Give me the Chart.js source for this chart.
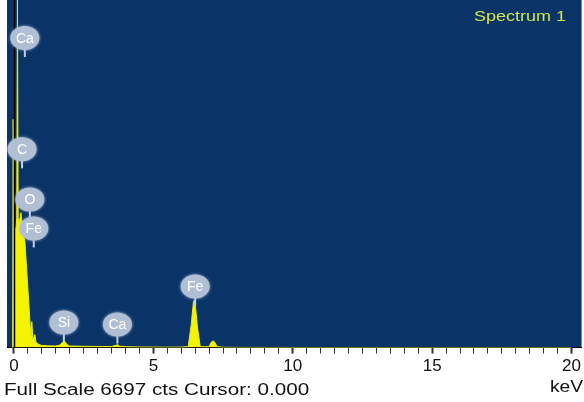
<!DOCTYPE html>
<html>
<head>
<meta charset="utf-8">
<script src="https://cdn.jsdelivr.net/npm/chart.js@4/dist/chart.umd.min.js"></script>
<style>
  html, body { margin: 0; padding: 0; background: #fff; }
  #wrap { width: 584px; height: 402px; }
</style>
</head>
<body>
<div id="wrap"><canvas id="c"></canvas></div>
<script>
// spectrum, energy in keV and counts
const energies = [-0.05, -0.03, -0.01, 0.02, 0.07, 0.10, 0.125, 0.15, 0.19, 0.25, 0.32, 0.39, 0.48, 0.57, 0.61, 0.64, 0.68, 0.75, 0.79, 0.90, 1.00,
                  1.20, 1.50, 1.65, 1.75, 1.82, 1.90, 2.00, 2.50, 3.00, 3.50, 3.65, 3.72, 3.80, 4.00, 4.50, 5.00, 5.50,
                  6.00, 6.25, 6.36, 6.44, 6.49, 6.58, 6.68, 6.85, 7.00, 7.07, 7.14, 7.21, 7.28, 7.50, 8.00, 10.0, 15.0, 20.0];
const counts   = [0, 4400, 4400, 2300, 2300, 2500, 6700, 2500, 2400, 2600, 2200, 2060, 1300, 520, 200, 500, 150, 250, 100, 60, 40,
                  35, 30, 50, 110, 120, 60, 30, 25, 22, 20, 45, 55, 25, 18, 12, 10, 8,
                  10, 20, 450, 900, 900, 400, 20, 15, 20, 100, 130, 100, 20, 6, 4, 2, 0, 0];

// element markers: name, energy (keV), counts at stem foot
const markNames  = ['Ca', 'C', 'O', 'Fe', 'Si', 'Ca', 'Fe'];
const markEnergy = [0.39, 0.29, 0.57, 0.71, 1.79, 3.71, 6.50];
const markCounts = [5600, 3456, 2490, 1930, 116, 77, 810];

const xTickLabels = [0, 5, 10, 15, 20];
const fullScale = 6697;
const cursorKeV = 0.000;

const BLUE = '#0a3468';

const spectrumPlugin = {
  id: 'spectrum',
  beforeDraw(chart) {
    const a = chart.chartArea, ctx = chart.ctx;
    ctx.save();
    ctx.fillStyle = BLUE;
    ctx.fillRect(a.left, 0, a.right - a.left, a.bottom);
    ctx.restore();
  },
  afterDatasetsDraw(chart) {
    const ctx = chart.ctx, x = chart.scales.x, y = chart.scales.y, a = chart.chartArea;
    ctx.save();
    // cursor line
    const cx = Math.round(x.getPixelForValue(cursorKeV)) + 0.5;
    ctx.strokeStyle = '#000';
    ctx.lineWidth = 1.5;
    ctx.beginPath();
    ctx.moveTo(cx, 0);
    ctx.lineTo(cx, a.bottom);
    ctx.stroke();

    // element bubbles
    markNames.forEach((name, i) => {
      const px = x.getPixelForValue(markEnergy[i]);
      const py = y.getPixelForValue(markCounts[i]);
      ctx.strokeStyle = '#c4cfdf';
      ctx.lineWidth = 2;
      ctx.beginPath();
      ctx.moveTo(px, py);
      ctx.lineTo(px, py - 8);
      ctx.stroke();
      ctx.shadowColor = 'rgba(190,202,222,0.9)';
      ctx.shadowBlur = 3;
      ctx.fillStyle = '#b1bfd4';
      ctx.beginPath();
      ctx.ellipse(px, py - 19, 14.5, 12, 0, 0, Math.PI * 2);
      ctx.fill();
      ctx.shadowBlur = 0;
      ctx.fillStyle = '#ffffff';
      ctx.font = '14px "Liberation Sans", Arial, sans-serif';
      ctx.textAlign = 'center';
      ctx.textBaseline = 'middle';
      ctx.fillText(name, px, py - 18);
    });

    // spectrum name
    ctx.fillStyle = '#d4e44a';
    ctx.font = '15px "Liberation Sans", Arial, sans-serif';
    ctx.textAlign = 'right';
    ctx.textBaseline = 'middle';
    ctx.save();
    ctx.translate(566, 17);
    ctx.scale(1.2, 1);
    ctx.fillText('Spectrum 1', 0, 0);
    ctx.restore();
    ctx.restore();
  },
  afterDraw(chart) {
    const ctx = chart.ctx;
    ctx.save();
    ctx.fillStyle = '#111';
    ctx.font = '16px "Liberation Sans", Arial, sans-serif';
    ctx.textBaseline = 'middle';
    ctx.textAlign = 'left';
    ctx.save();
    ctx.translate(4, 391);
    ctx.scale(1.29, 1);
    ctx.fillText('Full Scale ' + fullScale + ' cts Cursor: ' + cursorKeV.toFixed(3), 0, 0);
    ctx.restore();
    ctx.textAlign = 'right';
    ctx.save();
    ctx.translate(583, 388);
    ctx.scale(1.2, 1);
    ctx.fillText('keV', 0, 0);
    ctx.restore();
    ctx.restore();
  }
};

new Chart(document.getElementById('c'), {
  type: 'line',
  data: {
    datasets: [{
      data: energies.map((e, i) => ({ x: e, y: counts[i] })),
      borderColor: '#ecec10',
      backgroundColor: '#f4f400',
      borderWidth: 1,
      fill: 'origin',
      pointRadius: 0,
      tension: 0
    }]
  },
  options: {
    responsive: true,
    maintainAspectRatio: false,
    animation: false,
    devicePixelRatio: 1,
    layout: { padding: { left: 7, right: 0, top: 0, bottom: 22 } },
    plugins: { legend: { display: false }, tooltip: { enabled: false } },
    scales: {
      x: {
        type: 'linear',
        min: -0.25,
        max: 20.36,
        afterBuildTicks: (scale) => {
          const t = [];
          for (let v = 0; v <= 40; v++) t.push({ value: v * 0.5 });
          scale.ticks = t;
        },
        grid: {
          drawOnChartArea: false,
          drawTicks: true,
          tickLength: 6,
          tickColor: '#333',
          tickWidth: (c) => (c.tick && xTickLabels.includes(c.tick.value) ? 2 : 1)
        },
        border: { display: true, color: '#000', width: 1 },
        ticks: {
          autoSkip: false,
          maxRotation: 0,
          color: '#111',
          padding: 3,
          font: { family: '"Liberation Sans", Arial, sans-serif', size: 17 },
          callback: (v) => (xTickLabels.includes(v) ? String(v) : '')
        }
      },
      y: {
        display: false,
        min: 0,
        max: 6700
      }
    }
  },
  plugins: [spectrumPlugin]
});
</script>
</body>
</html>
